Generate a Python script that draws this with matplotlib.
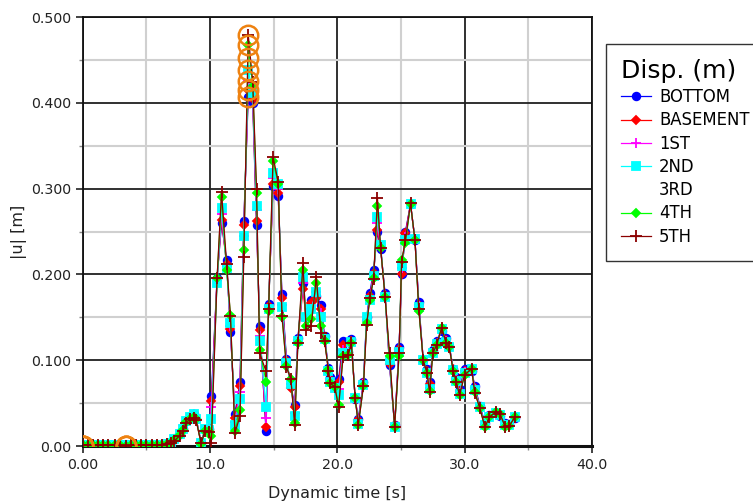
import numpy as np
import matplotlib.pyplot as plt
from matplotlib.ticker import MultipleLocator, FixedFormatter, FixedLocator

# 時刻 [s]
t = [0.0, 0.4, 0.8, 1.2, 1.6, 2.0, 2.5, 2.9, 3.4, 3.8, 4.2, 4.6, 5.0, 5.4, 5.8, 6.2, 6.6, 6.9,
     7.2, 7.6, 7.9, 8.1, 8.4, 8.7, 8.9, 9.3, 9.6, 9.9,
     10.1, 10.55, 10.9, 11.3, 11.6, 11.95, 12.35, 12.65, 13.0, 13.35, 13.65, 13.9,
     14.4, 14.6, 14.95, 15.35, 15.65, 16.0, 16.35, 16.65, 16.9, 17.3, 17.55, 17.95,
     18.35, 18.7, 19.0, 19.3, 19.45, 19.8, 20.1, 20.45, 20.85, 21.1, 21.4, 21.65,
     22.05, 22.3, 22.55, 22.85, 23.15, 23.4, 23.75, 24.1, 24.5, 24.85, 25.05, 25.35,
     25.75, 26.1, 26.4, 26.75, 27.05, 27.25, 27.5, 27.8, 28.2, 28.55, 28.8, 29.1,
     29.35, 29.6, 30.0, 30.55, 30.8, 31.2, 31.6, 31.95, 32.5, 32.8, 33.2, 33.5, 33.95]

bottom = [0.000, 0.001, 0.001, 0.001, 0.001, 0.001, 0.001, 0.001, 0.001, 0.001, 0.001, 0.001, 0.001, 0.001, 0.001, 0.001, 0.002, 0.003,
          0.008, 0.014, 0.020, 0.029, 0.034, 0.037, 0.032, 0.004, 0.020, 0.020,
          0.058, 0.196, 0.260, 0.217, 0.133, 0.037, 0.075, 0.262, 0.407, 0.400, 0.258, 0.140,
          0.017, 0.166, 0.303, 0.292, 0.177, 0.102, 0.070, 0.048, 0.126, 0.190, 0.150, 0.170,
          0.175, 0.165, 0.128, 0.091, 0.080, 0.072, 0.078, 0.123, 0.110, 0.125, 0.055, 0.032,
          0.075, 0.150, 0.178, 0.205, 0.250, 0.230, 0.178, 0.094, 0.025, 0.115, 0.200, 0.250,
          0.282, 0.240, 0.168, 0.100, 0.090, 0.075, 0.112, 0.122, 0.134, 0.126, 0.117, 0.090,
          0.080, 0.066, 0.090, 0.088, 0.070, 0.047, 0.027, 0.036, 0.038, 0.035, 0.027, 0.026, 0.033]

basement = [0.000, 0.001, 0.001, 0.001, 0.001, 0.001, 0.001, 0.001, 0.001, 0.001, 0.001, 0.001, 0.001, 0.001, 0.001, 0.001, 0.002, 0.003,
            0.008, 0.014, 0.020, 0.029, 0.033, 0.036, 0.032, 0.004, 0.019, 0.019,
            0.052, 0.195, 0.263, 0.212, 0.137, 0.033, 0.070, 0.258, 0.415, 0.405, 0.262, 0.135,
            0.022, 0.163, 0.306, 0.295, 0.172, 0.100, 0.068, 0.045, 0.124, 0.183, 0.148, 0.167,
            0.172, 0.160, 0.127, 0.087, 0.078, 0.071, 0.075, 0.118, 0.108, 0.122, 0.055, 0.030,
            0.073, 0.146, 0.175, 0.202, 0.252, 0.231, 0.176, 0.096, 0.024, 0.113, 0.200, 0.248,
            0.282, 0.240, 0.165, 0.100, 0.087, 0.072, 0.110, 0.120, 0.136, 0.124, 0.116, 0.090,
            0.078, 0.064, 0.088, 0.089, 0.068, 0.046, 0.025, 0.035, 0.039, 0.036, 0.025, 0.025, 0.033]

first = [0.000, 0.001, 0.001, 0.001, 0.001, 0.001, 0.001, 0.001, 0.001, 0.001, 0.001, 0.001, 0.001, 0.001, 0.001, 0.001, 0.002, 0.003,
         0.007, 0.013, 0.019, 0.028, 0.033, 0.037, 0.031, 0.003, 0.019, 0.018,
         0.045, 0.195, 0.270, 0.210, 0.140, 0.028, 0.063, 0.245, 0.426, 0.408, 0.275, 0.128,
         0.033, 0.162, 0.312, 0.300, 0.165, 0.098, 0.072, 0.038, 0.123, 0.190, 0.147, 0.160,
         0.180, 0.155, 0.126, 0.089, 0.076, 0.070, 0.066, 0.112, 0.108, 0.121, 0.056, 0.028,
         0.072, 0.147, 0.172, 0.200, 0.260, 0.232, 0.175, 0.100, 0.023, 0.111, 0.207, 0.244,
         0.282, 0.241, 0.163, 0.100, 0.086, 0.068, 0.109, 0.119, 0.137, 0.122, 0.116, 0.089,
         0.077, 0.062, 0.086, 0.090, 0.066, 0.045, 0.024, 0.034, 0.039, 0.036, 0.024, 0.024, 0.033]

second = [0.000, 0.001, 0.001, 0.001, 0.001, 0.001, 0.001, 0.001, 0.001, 0.001, 0.001, 0.001, 0.001, 0.001, 0.001, 0.001, 0.002, 0.004,
          0.008, 0.014, 0.020, 0.029, 0.034, 0.037, 0.032, 0.004, 0.020, 0.019,
          0.032, 0.190, 0.278, 0.208, 0.143, 0.025, 0.055, 0.245, 0.438, 0.412, 0.280, 0.122,
          0.046, 0.160, 0.318, 0.305, 0.162, 0.097, 0.072, 0.035, 0.122, 0.197, 0.150, 0.160,
          0.180, 0.150, 0.125, 0.088, 0.075, 0.068, 0.060, 0.108, 0.108, 0.121, 0.056, 0.026,
          0.071, 0.150, 0.170, 0.198, 0.267, 0.234, 0.174, 0.100, 0.022, 0.110, 0.210, 0.240,
          0.282, 0.241, 0.162, 0.100, 0.085, 0.066, 0.109, 0.119, 0.137, 0.121, 0.116, 0.089,
          0.076, 0.061, 0.085, 0.090, 0.065, 0.045, 0.024, 0.034, 0.039, 0.036, 0.024, 0.024, 0.034]

# 3RD は凡例のみ (線・記号なし), 最大値の丸だけ描かれる
third = [0.001, 0.001, 0.001, 0.001, 0.001, 0.001, 0.001, 0.001, 0.000, 0.001, 0.001, 0.001, 0.001, 0.001, 0.001, 0.001, 0.002, 0.004,
         0.007, 0.013, 0.019, 0.028, 0.032, 0.035, 0.031, 0.003, 0.019, 0.017,
         0.022, 0.193, 0.284, 0.206, 0.148, 0.021, 0.048, 0.235, 0.452, 0.416, 0.288, 0.116,
         0.060, 0.159, 0.325, 0.306, 0.156, 0.095, 0.075, 0.031, 0.121, 0.201, 0.145, 0.154,
         0.185, 0.145, 0.124, 0.089, 0.074, 0.069, 0.053, 0.106, 0.107, 0.121, 0.056, 0.025,
         0.070, 0.146, 0.170, 0.196, 0.275, 0.232, 0.174, 0.104, 0.022, 0.107, 0.213, 0.238,
         0.282, 0.240, 0.160, 0.100, 0.085, 0.064, 0.108, 0.118, 0.137, 0.120, 0.115, 0.088,
         0.075, 0.060, 0.084, 0.090, 0.064, 0.044, 0.023, 0.034, 0.040, 0.037, 0.023, 0.023, 0.034]

fourth = [0.001, 0.001, 0.001, 0.001, 0.001, 0.001, 0.001, 0.001, 0.000, 0.001, 0.001, 0.001, 0.001, 0.001, 0.001, 0.001, 0.002, 0.004,
          0.007, 0.013, 0.019, 0.028, 0.032, 0.034, 0.031, 0.002, 0.018, 0.017,
          0.012, 0.196, 0.290, 0.205, 0.153, 0.017, 0.042, 0.228, 0.467, 0.420, 0.295, 0.112,
          0.075, 0.158, 0.332, 0.306, 0.150, 0.093, 0.078, 0.027, 0.120, 0.205, 0.140, 0.148,
          0.190, 0.140, 0.123, 0.089, 0.074, 0.069, 0.048, 0.105, 0.106, 0.120, 0.056, 0.025,
          0.070, 0.143, 0.170, 0.196, 0.280, 0.231, 0.174, 0.105, 0.022, 0.105, 0.217, 0.237,
          0.282, 0.240, 0.158, 0.100, 0.085, 0.064, 0.108, 0.118, 0.138, 0.120, 0.115, 0.088,
          0.075, 0.059, 0.083, 0.090, 0.063, 0.044, 0.022, 0.034, 0.040, 0.037, 0.022, 0.023, 0.034]

fifth = [0.001, 0.001, 0.001, 0.001, 0.001, 0.001, 0.001, 0.001, 0.000, 0.001, 0.001, 0.001, 0.001, 0.001, 0.001, 0.001, 0.002, 0.004,
         0.006, 0.012, 0.018, 0.027, 0.031, 0.033, 0.030, 0.003, 0.018, 0.016,
         0.004, 0.196, 0.296, 0.212, 0.152, 0.015, 0.035, 0.220, 0.479, 0.424, 0.300, 0.108,
         0.087, 0.160, 0.337, 0.308, 0.152, 0.092, 0.078, 0.024, 0.120, 0.213, 0.135, 0.140,
         0.197, 0.132, 0.122, 0.088, 0.073, 0.069, 0.045, 0.104, 0.106, 0.120, 0.056, 0.025,
         0.070, 0.141, 0.172, 0.195, 0.289, 0.231, 0.174, 0.108, 0.022, 0.108, 0.215, 0.240,
         0.283, 0.240, 0.160, 0.100, 0.085, 0.063, 0.108, 0.118, 0.138, 0.120, 0.115, 0.088,
         0.075, 0.059, 0.083, 0.090, 0.062, 0.044, 0.022, 0.034, 0.040, 0.037, 0.022, 0.023, 0.034]

labels = ['BOTTOM', 'BASEMENT', '1ST', '2ND', '3RD', '4TH', '5TH']
series = [bottom, basement, first, second, third, fourth, fifth]
colors = ['#0000FF', '#FF0000', '#FF00FF', '#00FFFF', 'none', '#00FF00', '#8B0000']
markers = ['o', 'D', '+', 's', 'None', 'D', '+']
msizes = [5.5, 4.2, 7.5, 5.5, 0, 4.2, 8.5]

fig = plt.figure(figsize=(7.53, 5.04), dpi=100)
ax = fig.add_axes([0.110, 0.115, 0.676, 0.851])

for y, lab, c, m, ms in zip(series, labels, colors, markers, msizes):
    if c == 'none':
        ax.plot([], [], color='none', label=lab)
        continue
    ax.plot(t, y, color=c, marker=m, markersize=ms, markeredgewidth=1.3,
            linewidth=0.9, label=lab, zorder=3)

# 各系列の最大値・最小値を丸で表示
for y in series:
    y = np.array(y)
    i_max = np.argmax(y)
    i_min = np.argmin(y)
    ax.plot([t[i_max], t[i_min]], [y[i_max], y[i_min]], linestyle='none',
            marker='o', markersize=14, markerfacecolor='none',
            markeredgecolor='#EE8211', markeredgewidth=1.8, zorder=5)

ax.set_xlim(0, 40)
ax.set_ylim(0, 0.5)
ax.xaxis.set_major_locator(FixedLocator([0, 10, 20, 30, 40]))
ax.xaxis.set_major_formatter(FixedFormatter(['0.00', '10.0', '20.0', '30.0', '40.0']))
ax.yaxis.set_major_locator(FixedLocator([0, 0.1, 0.2, 0.3, 0.4, 0.5]))
ax.yaxis.set_major_formatter(FixedFormatter(['0.00', '0.100', '0.200', '0.300', '0.400', '0.500']))
ax.xaxis.set_minor_locator(MultipleLocator(5))
ax.yaxis.set_minor_locator(MultipleLocator(0.05))

ax.grid(which='major', color='#202020', linewidth=1.3, zorder=0)
ax.grid(which='minor', color='#D0D0D0', linewidth=1.5, zorder=0)
ax.set_axisbelow(True)
ax.tick_params(which='major', direction='out', length=5, width=1.2, labelsize=10.2,
               colors='#222222', top=False, right=False)
ax.tick_params(which='minor', direction='out', length=3, width=1, color='#888888')
for s in ax.spines.values():
    s.set_color('#111111')
    s.set_linewidth(1.3)
ax.spines['bottom'].set_linewidth(2.2)

ax.set_xlabel('Dynamic time [s]', fontsize=11.5, labelpad=10, color='#222222')
ax.set_ylabel('|u| [m]', fontsize=11.5, labelpad=3, color='#222222')

leg = fig.legend(loc='upper left', bbox_to_anchor=(0.805, 0.913), title='Disp. (m)',
                 fontsize=11.9, title_fontsize=18, frameon=True, fancybox=False,
                 edgecolor='black', borderaxespad=0, handlelength=1.8,
                 handletextpad=0.5, labelspacing=0.32, borderpad=0.9)
leg._legend_box.align = 'left'
leg.get_frame().set_linewidth(1.0)

fig.savefig('out.png', dpi=100)
